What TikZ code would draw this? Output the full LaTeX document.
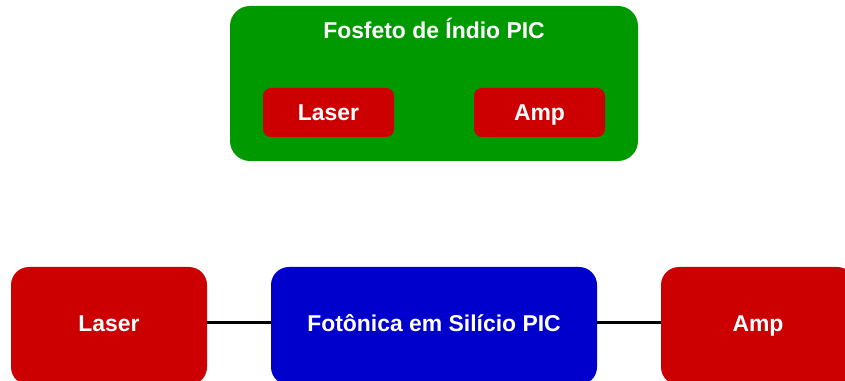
\documentclass[tikz,border=0pt]{standalone}
\usepackage{fontspec}
\setmainfont{Liberation Sans}
\usepackage{tikz}
\definecolor{picred}{HTML}{CC0000}
\definecolor{picgreen}{HTML}{009900}
\definecolor{picblue}{HTML}{0000CC}

\tikzset{
	chip/.style={rectangle, rounded corners=#1, inner sep=0pt, text=white,
		text height=16.5bp, text depth=0bp,
		font=\fontsize{23}{27}\selectfont\bfseries},
	chip/.default=18bp,
	die/.style={chip, fill=picred},
	bigchip/.style={minimum height=118bp, text depth=6bp},
}

\begin{document}
\begin{tikzpicture}
	\clip (0bp,0bp) rectangle (845bp,381bp);

	% InP chip on top
	\node (inp) at (434bp,297.5bp) [chip=20bp, fill=picgreen, minimum width=408bp, minimum height=155bp] {};
	\node (inptitle) at (434bp,351bp) [chip] {Fosfeto de Índio PIC};
	\node (inplaser) at (328.5bp,268.5bp) [die, chip=8bp, fill=picred, minimum width=131bp, minimum height=49bp] {Laser};
	\node (inpamp) at (539.5bp,268.5bp) [die, chip=8bp, fill=picred, minimum width=131bp, minimum height=49bp] {Amp};

	% silicon photonics row
	\node (laser) at (109bp,55bp) [die, bigchip, minimum width=196bp] {Laser};
	\node (sipic) at (434bp,55bp) [chip, fill=picblue, bigchip, minimum width=326bp] {Fotônica em Silício PIC};
	\node (amp) at (758bp,55bp) [die, bigchip, minimum width=194bp] {Amp};

	\draw [line width=3bp] ([yshift=3bp]laser.east) -- ([yshift=3bp]sipic.west);
	\draw [line width=3bp] ([yshift=3bp]sipic.east) -- ([yshift=3bp]amp.west);
\end{tikzpicture}
\end{document}
